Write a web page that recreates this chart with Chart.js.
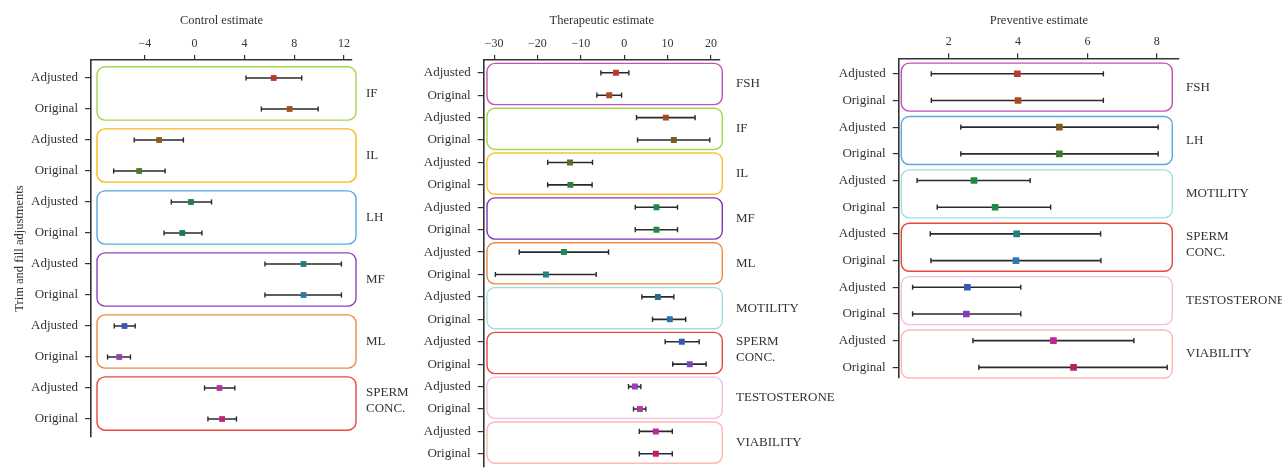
<!DOCTYPE html>
<html>
<head>
<meta charset="utf-8">
<script src="https://cdn.jsdelivr.net/npm/chart.js@4.4.0/dist/chart.umd.min.js"></script>
<style>
  html, body { margin: 0; padding: 0; background: #fff; }
  #wrap { position: relative; width: 1282px; height: 472px; }
  #wrap canvas { position: absolute; left: 0; top: 0; }
</style>
</head>
<body>
<div id="wrap">
  <canvas id="controlChart" width="1282" height="472"></canvas>
  <canvas id="therapeuticChart" width="1282" height="472"></canvas>
  <canvas id="preventiveChart" width="1282" height="472"></canvas>
</div>
<script>
// rows alternate Adjusted / Original inside every group
const rowLabels = ['Adjusted', 'Original'];

// Control estimate
const controlGroups = ['IF', 'IL', 'LH', 'MF', 'ML', 'SPERM\nCONC.'];
const controlEst  = [6.35, 7.63, -2.85, -4.45, -0.29, -0.99, 8.75, 8.75, -5.63, -6.05, 2.0, 2.21];
const controlLow  = [4.13, 5.36, -4.85, -6.5, -1.87, -2.45, 5.65, 5.65, -6.45, -6.99, 0.8, 1.07];
const controlHigh = [8.6, 9.92, -0.9, -2.37, 1.36, 0.59, 11.79, 11.79, -4.77, -5.15, 3.23, 3.36];
const controlTicks = [-4, 0, 4, 8, 12];

// Therapeutic estimate
const therapeuticGroups = ['FSH', 'IF', 'IL', 'MF', 'ML', 'MOTILITY', 'SPERM\nCONC.', 'TESTOSTERONE', 'VIABILITY'];
const therapeuticEst  = [-1.9, -3.45, 9.6, 11.45, -12.5, -12.4, 7.45, 7.45, -13.9, -18.05, 7.77, 10.53, 13.3, 15.14, 2.47, 3.62, 7.3, 7.3];
const therapeuticLow  = [-5.37, -6.3, 2.85, 3.08, -17.65, -17.65, 2.55, 2.55, -24.2, -29.7, 4.08, 6.53, 9.45, 11.2, 1.0, 2.15, 3.5, 3.5];
const therapeuticHigh = [1.08, -0.6, 16.36, 19.75, -7.3, -7.4, 12.3, 12.3, -3.6, -6.45, 11.45, 14.2, 17.3, 18.9, 3.85, 5.0, 11.1, 11.1];
const therapeuticTicks = [-30, -20, -10, 0, 10, 20];

// Preventive estimate
const preventiveGroups = ['FSH', 'LH', 'MOTILITY', 'SPERM\nCONC.', 'TESTOSTERONE', 'VIABILITY'];
const preventiveEst  = [3.98, 4.0, 5.19, 5.19, 2.73, 3.34, 3.96, 3.94, 2.54, 2.51, 5.02, 5.6];
const preventiveLow  = [1.5, 1.5, 2.35, 2.35, 1.09, 1.67, 1.47, 1.49, 0.96, 0.96, 2.7, 2.87];
const preventiveHigh = [6.46, 6.46, 8.04, 8.04, 4.35, 4.94, 6.38, 6.39, 4.08, 4.08, 7.34, 8.3];
const preventiveTicks = [2, 4, 6, 8];

// colours
const controlMarkerColors = ['#b5382a', '#a5501f', '#8a5e1a', '#4a7a2a', '#1e8048', '#1a7a52',
  '#217a7a', '#2a78b0', '#3a5aae', '#8e44b5', '#b535a5', '#b82878'];
const controlBoxColors = ['#a6d64c', '#f7b916', '#5aa8df', '#8f45b8', '#ef8a3c', '#e6493b'];

const therapeuticMarkerColors = ['#c0392b', '#a84a1c', '#9a4e1a', '#7e5c1b', '#5e6b28', '#2e8040',
  '#1e8a40', '#1e8a40', '#1c8a58', '#23807f', '#22708e', '#2a6fb8', '#3558b0', '#7a48b8',
  '#9a3eb8', '#b43aaa', '#c0269a', '#be1f6a'];
const therapeuticBoxColors = ['#c54fbd', '#a6d64c', '#f9c236', '#8033b5', '#ef8a3c', '#9fe0e0',
  '#e6493b', '#f3c0e2', '#ffb8b0'];

const preventiveMarkerColors = ['#c0392b', '#a84a1c', '#7e5c1b', '#3d7a28', '#1e8a3a', '#1e8a48',
  '#23807f', '#2a78b8', '#3558b0', '#8a3ab8', '#c0269a', '#be1f6a'];
const preventiveBoxColors = ['#c54fbd', '#5aa8df', '#9fe0e0', '#e6493b', '#f3c0e2', '#ffb8b0'];

Chart.defaults.font.family = "'Liberation Serif', 'Times New Roman', serif";
Chart.defaults.color = '#333';

function roundRect(ctx, x, y, w, h, r) {
    ctx.beginPath();
    ctx.moveTo(x + r, y);
    ctx.arcTo(x + w, y, x + w, y + h, r);
    ctx.arcTo(x + w, y + h, x, y + h, r);
    ctx.arcTo(x, y + h, x, y, r);
    ctx.arcTo(x, y, x + w, y, r);
    ctx.closePath();
}

function makePanel(id, p) {
    const rows = p.est.map((_, i) => i);
    const whiskers = [];
    rows.forEach(i => {
        whiskers.push({x: p.low[i], y: i}, {x: p.high[i], y: i}, {x: null, y: i});
    });
    const markers = rows.map(i => ({x: p.est[i], y: i}));

    const groupPlugin = {
        id: 'groupBoxes',
        beforeDatasetsDraw(chart) {
            const {ctx, chartArea, scales: {y}} = chart;
            ctx.save();
            p.groups.forEach((g, k) => {
                const y1 = y.getPixelForValue(2 * k - p.boxPad);
                const y2 = y.getPixelForValue(2 * k + 1 + p.boxPad);
                const left = chartArea.left + p.boxLeft;
                const right = chartArea.right + p.boxRight;
                roundRect(ctx, left, Math.min(y1, y2), right - left, Math.abs(y2 - y1), 8);
                ctx.strokeStyle = p.boxColors[k];
                ctx.lineWidth = 1.4;
                ctx.stroke();

                const lines = g.split('\n');
                const cy = (y1 + y2) / 2 - (lines.length - 1) * 8 - (lines.length > 1 ? 3 : 0);
                ctx.fillStyle = '#333';
                ctx.font = "13px 'Liberation Serif', serif";
                ctx.textBaseline = 'middle';
                ctx.textAlign = 'left';
                lines.forEach((t, j) => ctx.fillText(t, right + p.labelGap, cy + j * 16));
            });
            ctx.restore();
        }
    };

    return new Chart(document.getElementById(id), {
        type: 'scatter',
        data: {
            datasets: [
                {
                    label: 'Estimate',
                    data: markers,
                    pointStyle: 'rect',
                    pointRadius: p.markerRadius,
                    pointBackgroundColor: p.markerColors,
                    pointBorderColor: p.markerColors,
                    pointBorderWidth: 0
                },
                {
                    label: 'Interval',
                    data: whiskers,
                    showLine: true,
                    spanGaps: false,
                    borderColor: '#2a2a2a',
                    borderWidth: 1.6,
                    pointStyle: 'line',
                    pointRotation: 90,
                    pointRadius: 2.6,
                    pointBorderColor: '#2a2a2a',
                    pointBorderWidth: 1.4
                }
            ]
        },
        options: {
            responsive: false,
            animation: false,
            events: [],
            layout: {
                padding: {
                    left: p.area.left - p.yWidth,
                    top: 0,
                    right: 1282 - p.area.right,
                    bottom: 472 - p.area.bottom
                }
            },
            scales: {
                x: {
                    type: 'linear',
                    position: 'top',
                    min: p.xMin,
                    max: p.xMax,
                    afterBuildTicks: (axis) => { axis.ticks = p.ticks.map(v => ({value: v})); },
                    afterFit: (scale) => {
                        scale.height = p.area.top;
                        scale.paddingLeft = 0;
                        scale.paddingRight = 0;
                    },
                    ticks: {
                        font: {size: 12},
                        color: '#333',
                        padding: 4,
                        maxRotation: 0,
                        autoSkip: false,
                        callback: (v) => String(v).replace('-', '\u2212')
                    },
                    grid: {
                        display: true,
                        drawOnChartArea: false,
                        drawTicks: true,
                        tickLength: 5,
                        color: '#333',
                        lineWidth: 1.2
                    },
                    border: {display: true, color: '#333', width: 1.6},
                    title: {
                        display: true,
                        text: p.title,
                        font: {size: 12.5},
                        color: '#333',
                        padding: {top: 13.5, bottom: 0}
                    }
                },
                y: {
                    type: 'linear',
                    reverse: true,
                    offset: false,
                    min: p.yMin,
                    max: p.yMax,
                    afterBuildTicks: (axis) => { axis.ticks = rows.map(i => ({value: i})); },
                    afterFit: (scale) => {
                        scale.width = p.yWidth;
                        scale.paddingTop = 0;
                        scale.paddingBottom = 0;
                    },
                    ticks: {
                        font: {size: 13},
                        color: '#333',
                        padding: 7,
                        autoSkip: false,
                        callback: (v) => rowLabels[v % 2]
                    },
                    grid: {
                        display: true,
                        offset: false,
                        drawOnChartArea: false,
                        drawTicks: true,
                        tickLength: 6,
                        color: '#333',
                        lineWidth: 1.2
                    },
                    border: {display: true, color: '#333', width: 1.6},
                    title: {
                        display: !!p.yTitle,
                        text: p.yTitle || '',
                        font: {size: 12.5},
                        color: '#333',
                        padding: {top: 12, bottom: 0}
                    }
                }
            },
            plugins: {
                legend: {display: false},
                tooltip: {enabled: false}
            }
        },
        plugins: [groupPlugin]
    });
}

makePanel('controlChart', {
    title: 'Control estimate',
    yTitle: 'Trim and fill adjustments',
    groups: controlGroups,
    est: controlEst, low: controlLow, high: controlHigh, ticks: controlTicks,
    markerColors: controlMarkerColors, boxColors: controlBoxColors,
    area: {left: 91, right: 352, top: 60, bottom: 437},
    yWidth: 91,
    xMin: -8.32, xMax: 12.64, yMin: -0.58, yMax: 11.58,
    boxPad: 0.36, boxLeft: 6, boxRight: 4, labelGap: 10,
    markerRadius: 4.1
});

makePanel('therapeuticChart', {
    title: 'Therapeutic estimate',
    groups: therapeuticGroups,
    est: therapeuticEst, low: therapeuticLow, high: therapeuticHigh, ticks: therapeuticTicks,
    markerColors: therapeuticMarkerColors, boxColors: therapeuticBoxColors,
    area: {left: 483.7, right: 720, top: 60, bottom: 470},
    yWidth: 80,
    xMin: -32.4, xMax: 22.1, yMin: -0.57, yMax: 17.57,
    boxPad: 0.42, boxLeft: 3.3, boxRight: 2.3, labelGap: 13.7,
    markerRadius: 4.2
});

makePanel('preventiveChart', {
    title: 'Preventive estimate',
    groups: preventiveGroups,
    est: preventiveEst, low: preventiveLow, high: preventiveHigh, ticks: preventiveTicks,
    markerColors: preventiveMarkerColors, boxColors: preventiveBoxColors,
    area: {left: 898.7, right: 1179, top: 58.3, bottom: 378},
    yWidth: 80,
    xMin: 0.56, xMax: 8.64, yMin: -0.58, yMax: 11.4,
    boxPad: 0.4, boxLeft: 2.6, boxRight: -6.7, labelGap: 13.7,
    markerRadius: 4.7
});
</script>
</body>
</html>
